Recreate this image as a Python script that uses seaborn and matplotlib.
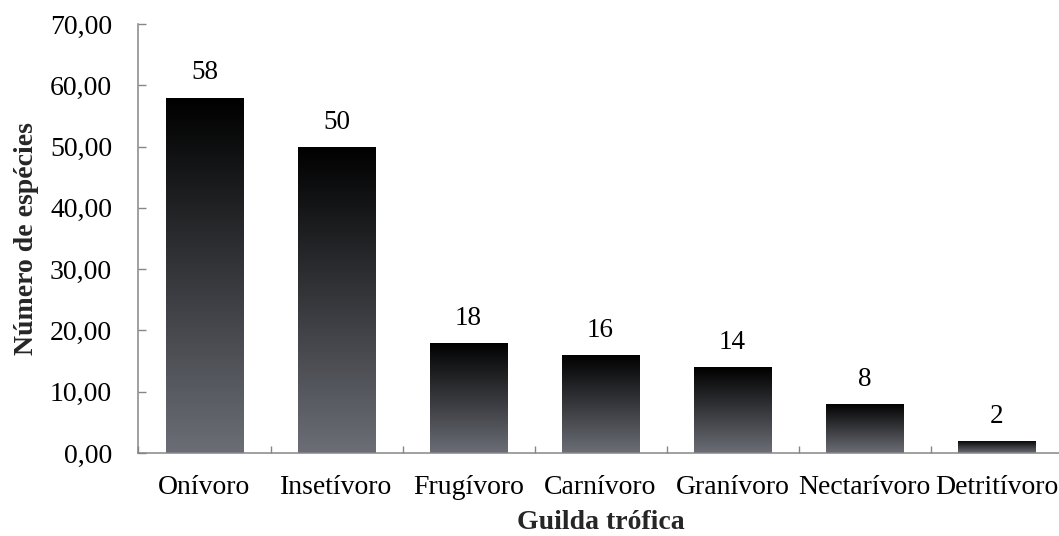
import numpy as np
import pandas as pd
import seaborn as sns
import matplotlib.pyplot as plt
from matplotlib.colors import LinearSegmentedColormap

guildas = ["Onívoro", "Insetívoro", "Frugívoro", "Carnívoro", "Granívoro",
           "Nectarívoro", "Detritívoro"]
especies = [58, 50, 18, 16, 14, 8, 2]
y_ticks = [0, 10, 20, 30, 40, 50, 60, 70]

df = pd.DataFrame({"guilda": guildas, "n": especies})

sns.set_theme(style="white")
plt.rcParams['font.family'] = ['Liberation Serif', 'DejaVu Serif']

axis_grey = "#868686"
grad = LinearSegmentedColormap.from_list("barra", ["#000000", "#6b6e76"])

fig = plt.figure(figsize=(10.59, 5.36), dpi=100)
ax = fig.add_axes([138.5 / 1059, 83 / 536, 924 / 1059, 429 / 536])

sns.barplot(data=df, x="guilda", y="n", width=0.585, color="black",
            errorbar=None, ax=ax)

# gradient fill, black at the top of each bar down to grey at the base
fade = np.linspace(0, 1, 256).reshape(-1, 1)
for p in ax.patches:
    x0, y0 = p.get_x(), p.get_y()
    w, h = p.get_width(), p.get_height()
    im = ax.imshow(fade, extent=[x0, x0 + w, y0, y0 + h], origin="upper",
                   cmap=grad, aspect="auto", zorder=p.get_zorder())
    im.set_clip_path(p)
    p.set_facecolor("none")
    p.set_edgecolor("none")

for i, v in enumerate(especies):
    ax.annotate(f"{v}", xy=(i, v), xytext=(0, 13), textcoords="offset points",
                ha="center", va="baseline", fontsize=19.5, color="black")

ax.set_xlim(-0.5, 6.5)
ax.set_ylim(0, 70)
ax.set_yticks(y_ticks)
ax.set_yticklabels([f"{t:.2f}".replace(".", ",") for t in y_ticks])
ax.set_xticks(range(len(guildas)))
ax.set_xticklabels(guildas)
ax.set_xticks(np.arange(-0.5, len(guildas), 1), minor=True)

ax.tick_params(axis="x", which="major", length=0, pad=16, labelsize=20,
               labelcolor="black")
ax.tick_params(axis="x", which="minor", direction="in", length=5,
               width=1, color=axis_grey, bottom=True)
ax.tick_params(axis="y", direction="in", length=6, width=1, color=axis_grey,
               pad=19, labelsize=20, labelcolor="black", left=True)

for s in ["top", "right"]:
    ax.spines[s].set_visible(False)
for s in ["left", "bottom"]:
    ax.spines[s].set_color(axis_grey)
    ax.spines[s].set_linewidth(1.1)

ax.set_xlabel("Guilda trófica", fontsize=20, fontweight="bold", labelpad=7)
ax.set_ylabel("Número de espécies", fontsize=20, fontweight="bold", labelpad=8)

fig.savefig("out.png", dpi=100)
